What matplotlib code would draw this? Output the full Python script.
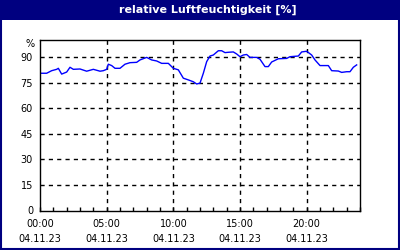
import matplotlib
matplotlib.use('Agg')
import matplotlib.pyplot as plt
from matplotlib.patches import Rectangle

# hours since 00:00 and relative humidity in %
hours = [0, 0.5, 0.875, 1.25, 1.375, 1.625, 1.875, 2, 2.25, 2.5, 3, 3.5, 4, 4.5, 4.75,
         5, 5.125, 5.375, 5.625, 6, 6.375, 6.75, 7.25, 7.5, 8, 8.375, 8.75, 9.125, 9.625,
         10, 10.375, 10.75, 11.125, 11.5, 11.75, 12, 12.25, 12.5, 12.75, 13, 13.375,
         13.625, 13.875, 14.125, 14.5, 14.75, 15, 15.25, 15.5, 15.75, 16.25, 16.5,
         16.875, 17.125, 17.375, 17.875, 18.5, 18.75, 19.375, 19.625, 20, 20.375,
         20.625, 21, 21.625, 21.875, 22.375, 22.625, 23, 23.25, 23.5, 23.75]
humidity = [80.5, 80.5, 82, 82.8, 83.4, 80, 80.8, 81.2, 84, 82.8, 83, 81.7, 82.8, 81.7, 82,
            82.8, 85.8, 85, 83.4, 83.4, 85.8, 86.7, 86.9, 88.3, 89.8, 88.3, 87.7, 86.3, 86.3,
            83.4, 82.5, 77.6, 76.6, 75.5, 74.2, 74.7, 80.5, 87.3, 90.6, 91.2, 93.7,
            93.7, 92.6, 92.8, 93, 91.8, 90.2, 91.2, 91.5, 89.8, 89.8, 88.7,
            84.4, 84.4, 87.1, 89, 89.2, 90.2, 90.6, 93, 93.4, 91.2,
            88.3, 85, 85, 82, 81.8, 81, 81.4, 81.4, 84, 85.4]

major_hours = [0, 5, 10, 15, 20]
major_labels = ['00:00\n04.11.23', '05:00\n04.11.23', '10:00\n04.11.23',
                '15:00\n04.11.23', '20:00\n04.11.23']
y_ticks = [0, 15, 30, 45, 60, 75, 90]
y_labels = ['0', '15', '30', '45', '60', '75', '90']

navy = '#000080'

fig = plt.figure(figsize=(4, 2.5), dpi=100)
fig.patch.set_facecolor('white')

# title bar and outer frame
fig.patches.append(Rectangle((0, 1 - 20 / 250), 1, 20 / 250, transform=fig.transFigure,
                             facecolor=navy, edgecolor='none', zorder=0))
fig.patches.append(Rectangle((0.0025, 0.004), 0.995, 0.99, transform=fig.transFigure,
                             facecolor='none', edgecolor=navy, linewidth=1.5, zorder=5))
fig.text(0.52, 1 - 10 / 250, 'relative Luftfeuchtigkeit [%]', color='white',
         fontsize=8, fontweight='bold', ha='center', va='center')

ax = fig.add_axes([40 / 400, 1 - 210.5 / 250, 320 / 400, 170.5 / 250])
ax.plot(hours, humidity, color='#0000ff', linewidth=1)

ax.set_xlim(0, 24)
ax.set_ylim(0, 100)
ax.set_xticks(major_hours)
ax.set_xticklabels(major_labels, fontsize=7, linespacing=1.6)
ax.set_xticks(range(0, 25), minor=True)
ax.set_yticks(y_ticks)
ax.set_yticklabels(y_labels, fontsize=7)
ax.tick_params(axis='x', which='both', direction='in', length=3, width=1, pad=6)
ax.tick_params(axis='y', length=0, pad=5)
ax.text(-0.017, 97.5, '%', transform=ax.get_yaxis_transform(), fontsize=7,
        ha='right', va='center')

for h in major_hours[1:]:
    ax.axvline(h, color='black', linewidth=1, linestyle=(0, (3, 3)), zorder=1)
for v in y_ticks[1:]:
    ax.axhline(v, color='black', linewidth=1, linestyle=(0, (3, 3)), zorder=1)

for s in ax.spines.values():
    s.set_color('black')
    s.set_linewidth(1)

plt.savefig('out.png', dpi=100)
